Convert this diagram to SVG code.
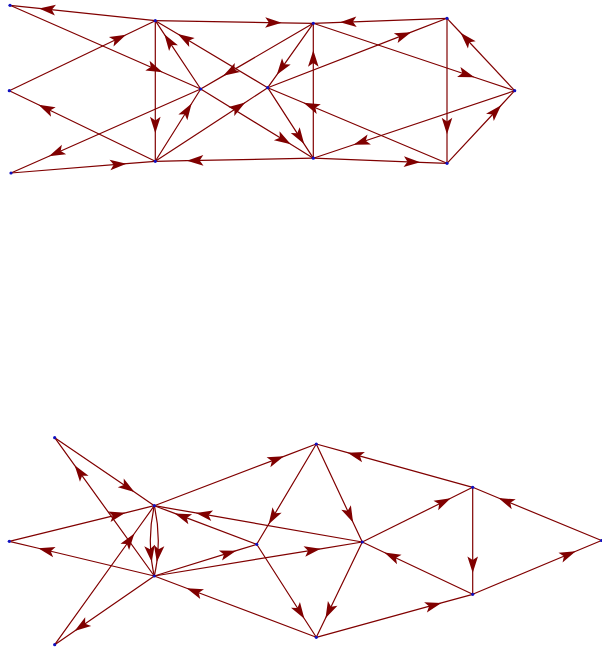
<svg xmlns="http://www.w3.org/2000/svg" width="602" height="648" viewBox="0 0 602 648">
<style>
.e{fill:none;stroke:#800000;stroke-width:1.2;marker-mid:url(#ah)}
.n{fill:#1010c0}
</style>
<defs>
<marker id="ah" markerUnits="userSpaceOnUse" markerWidth="19" markerHeight="13" viewBox="-18 -6.5 19 13" refX="0" refY="0" orient="auto">
<path d="M0,0 L-16.5,-5.3 L-12.8,0 L-16.5,5.3 Z" fill="#800000"/>
</marker>
</defs>
<rect width="602" height="648" fill="#ffffff"/>
<g id="edges">
<path class="e" d="M155.3,20.7 L39.06,8.38 L10,5.3"/>
<path class="e" d="M155.3,20.7 L281.7,22.78 L313.3,23.3"/>
<path class="e" d="M10,5.3 L162.56,72.26 L200.7,89"/>
<path class="e" d="M9.3,90.7 L126.1,34.7 L155.3,20.7"/>
<path class="e" d="M155.3,161.3 L38.5,104.82 L9.3,90.7"/>
<path class="e" d="M200.7,89 L48.94,156.2 L11,173"/>
<path class="e" d="M11,173 L126.44,163.64 L155.3,161.3"/>
<path class="e" d="M155.3,20.7 L155.3,133.18 L155.3,161.3"/>
<path class="e" d="M200.7,89 L164.38,34.36 L155.3,20.7"/>
<path class="e" d="M267.7,87.7 L177.78,34.1 L155.3,20.7"/>
<path class="e" d="M313.3,23.3 L223.22,75.86 L200.7,89"/>
<path class="e" d="M155.3,161.3 L191.62,103.46 L200.7,89"/>
<path class="e" d="M155.3,161.3 L245.22,102.42 L267.7,87.7"/>
<path class="e" d="M200.7,89 L290.78,144.36 L313.3,158.2"/>
<path class="e" d="M267.7,87.7 L304.18,144.1 L313.3,158.2"/>
<path class="e" d="M313.3,23.3 L276.82,74.82 L267.7,87.7"/>
<path class="e" d="M313.3,158.2 L313.3,50.28 L313.3,23.3"/>
<path class="e" d="M313.3,158.2 L186.9,160.68 L155.3,161.3"/>
<path class="e" d="M267.7,87.7 L411.14,32.18 L447,18.3"/>
<path class="e" d="M447,18.3 L340.04,22.3 L313.3,23.3"/>
<path class="e" d="M313.3,23.3 L474.42,77.22 L514.7,90.7"/>
<path class="e" d="M514.7,90.7 L460.54,32.78 L447,18.3"/>
<path class="e" d="M447,18.3 L447,134.3 L447,163.3"/>
<path class="e" d="M447,163.3 L501.16,105.22 L514.7,90.7"/>
<path class="e" d="M447,163.3 L303.56,102.82 L267.7,87.7"/>
<path class="e" d="M514.7,90.7 L353.58,144.7 L313.3,158.2"/>
<path class="e" d="M313.3,158.2 L420.26,162.28 L447,163.3"/>

<path class="e" d="M54.7,437.7 L134.38,492.1 L154.3,505.7"/>
<path class="e" d="M154.3,576 L74.62,465.36 L54.7,437.7"/>
<path class="e" d="M9.3,541.3 L125.3,512.82 L154.3,505.7"/>
<path class="e" d="M154.3,576 L38.3,548.24 L9.3,541.3"/>
<path class="e" d="M54.7,644.7 L134.38,533.5 L154.3,505.7"/>
<path class="e" d="M154.3,576 L74.62,630.96 L54.7,644.7"/>
<path class="e" d="M154.3,505.7 Q147.9,533.82 151.74,561.94 Q152.7,568.97 154.3,576"/>
<path class="e" d="M154.3,505.7 Q160.7,533.82 156.86,561.94 Q155.9,568.97 154.3,576"/>
<path class="e" d="M154.3,505.7 L283.9,456.34 L316.3,444"/>
<path class="e" d="M316.3,444 L268.62,524.24 L256.7,544.3"/>
<path class="e" d="M256.7,544.3 L174.78,513.42 L154.3,505.7"/>
<path class="e" d="M362.3,542 L195.9,512.96 L154.3,505.7"/>
<path class="e" d="M154.3,576 L236.22,550.64 L256.7,544.3"/>
<path class="e" d="M154.3,576 L320.7,548.8 L362.3,542"/>
<path class="e" d="M316.3,637.3 L186.7,588.26 L154.3,576"/>
<path class="e" d="M256.7,544.3 L304.38,618.7 L316.3,637.3"/>
<path class="e" d="M316.3,444 L353.1,522.4 L362.3,542"/>
<path class="e" d="M362.3,542 L325.5,618.24 L316.3,637.3"/>
<path class="e" d="M472.7,487.3 L347.58,452.66 L316.3,444"/>
<path class="e" d="M362.3,542 L450.62,498.24 L472.7,487.3"/>
<path class="e" d="M472.7,594.3 L384.38,552.46 L362.3,542"/>
<path class="e" d="M472.7,487.3 L472.7,572.9 L472.7,594.3"/>
<path class="e" d="M601.5,540.5 L498.46,497.94 L472.7,487.3"/>
<path class="e" d="M472.7,594.3 L575.74,551.26 L601.5,540.5"/>
<path class="e" d="M316.3,637.3 L441.42,602.9 L472.7,594.3"/>
</g>
<g id="node-A"><circle class="n" cx="10" cy="5.3" r="1.6"/></g>
<g id="node-B"><circle class="n" cx="9.3" cy="90.7" r="1.6"/></g>
<g id="node-C"><circle class="n" cx="11" cy="173" r="1.6"/></g>
<g id="node-D"><circle class="n" cx="155.3" cy="20.7" r="1.6"/></g>
<g id="node-E"><circle class="n" cx="200.7" cy="89" r="1.6"/></g>
<g id="node-F"><circle class="n" cx="155.3" cy="161.3" r="1.6"/></g>
<g id="node-G"><circle class="n" cx="267.7" cy="87.7" r="1.6"/></g>
<g id="node-H"><circle class="n" cx="313.3" cy="23.3" r="1.6"/></g>
<g id="node-I"><circle class="n" cx="313.3" cy="158.2" r="1.6"/></g>
<g id="node-J"><circle class="n" cx="447" cy="18.3" r="1.6"/></g>
<g id="node-K"><circle class="n" cx="514.7" cy="90.7" r="1.6"/></g>
<g id="node-L"><circle class="n" cx="447" cy="163.3" r="1.6"/></g>
<g id="node-a"><circle class="n" cx="54.7" cy="437.7" r="1.6"/></g>
<g id="node-b"><circle class="n" cx="9.3" cy="541.3" r="1.6"/></g>
<g id="node-c"><circle class="n" cx="54.7" cy="644.7" r="1.6"/></g>
<g id="node-d"><circle class="n" cx="154.3" cy="505.7" r="1.6"/></g>
<g id="node-e"><circle class="n" cx="154.3" cy="576" r="1.6"/></g>
<g id="node-f"><circle class="n" cx="256.7" cy="544.3" r="1.6"/></g>
<g id="node-g"><circle class="n" cx="316.3" cy="444" r="1.6"/></g>
<g id="node-h"><circle class="n" cx="316.3" cy="637.3" r="1.6"/></g>
<g id="node-i"><circle class="n" cx="362.3" cy="542" r="1.6"/></g>
<g id="node-j"><circle class="n" cx="472.7" cy="487.3" r="1.6"/></g>
<g id="node-k"><circle class="n" cx="472.7" cy="594.3" r="1.6"/></g>
<g id="node-l"><circle class="n" cx="601.5" cy="540.5" r="1.6"/></g>
</svg>
